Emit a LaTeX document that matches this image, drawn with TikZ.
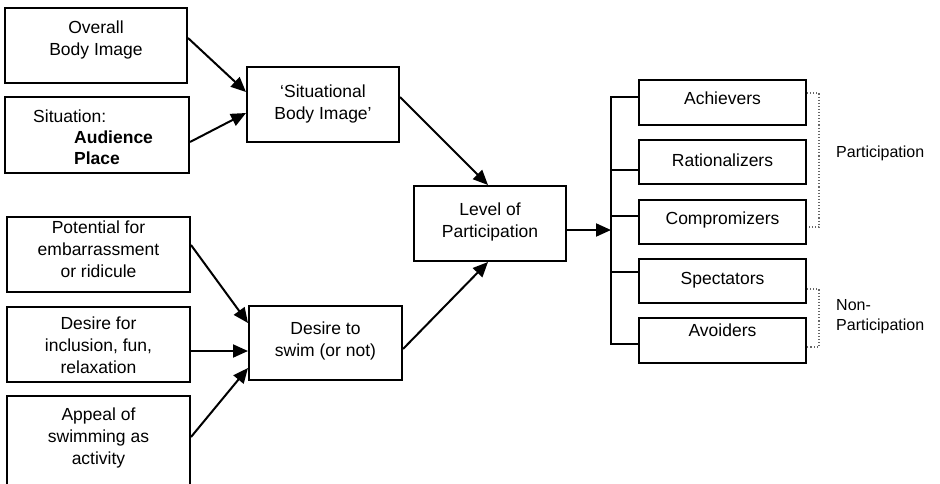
\documentclass[tikz,border=0pt]{standalone}
\usepackage{fontspec}
\setmainfont{Liberation Sans}
\usetikzlibrary{arrows.meta}
\begin{document}
\begin{tikzpicture}[x=1pt,y=-1pt,
  box/.style={draw, line width=2pt, inner sep=0pt},
  txt/.style={inner sep=0pt, align=center, font=\fontsize{17.5}{22}\selectfont},
  lbl/.style={inner sep=0pt, align=left, anchor=west, font=\fontsize{16}{20}\selectfont},
  arr/.style={line width=2pt, -{Triangle[length=15pt,width=13pt]}},
  ln/.style={line width=2pt, line join=miter},
  brk/.style={black!60, dotted, line width=1.1pt}
]
\useasboundingbox (0,0) rectangle (940,483);
\clip (0,0) rectangle (940,483);
% left column boxes
\node[box, minimum width=182pt, minimum height=75pt] (body) at (96,45.5) {};
\node[txt] (bodyT) at (96,40) {Overall\\Body Image};
\node[box, minimum width=184pt, minimum height=76pt] (sit) at (97,135) {};
\node[txt, align=left, anchor=west, font=\fontsize{17.5}{21}\selectfont] (sitT) at (33,137)
  {Situation:\\\hspace*{41pt}\textbf{Audience}\\\hspace*{41pt}\textbf{Place}};
\node[box, minimum width=183pt, minimum height=75pt] (pot) at (98.5,254.5) {};
\node[txt] (potT) at (98.5,249) {Potential for\\embarrassment\\or ridicule};
\node[box, minimum width=183pt, minimum height=75pt] (dfi) at (98.5,344.5) {};
\node[txt] (dfiT) at (98.5,345) {Desire for\\inclusion, fun,\\relaxation};
\node[box, minimum width=183pt, minimum height=94pt] (app) at (98.5,443) {};
\node[txt] (appT) at (98.5,438) {Appeal of\\swimming as\\activity};
% middle boxes
\node[box, minimum width=152pt, minimum height=75pt] (sbi) at (323,104.5) {};
\node[txt] (sbiT) at (323,104.3) {`Situational\\Body Image'};
\node[box, minimum width=153pt, minimum height=74pt] (dts) at (325.5,343) {};
\node[txt] (dtsT) at (325.5,341) {Desire to\\swim (or not)};
\node[box, minimum width=152pt, minimum height=75pt] (level) at (490,223.5) {};
\node[txt] (levelT) at (490,222) {Level of\\Participation};
% right boxes
\node[box, minimum width=167pt, minimum height=45pt] (ach) at (722.5,102.5) {};
\node[txt] (achT) at (722.5,98.5) {Achievers};
\node[box, minimum width=167pt, minimum height=44pt] (rat) at (722.5,162) {};
\node[txt] (ratT) at (722.5,160) {Rationalizers};
\node[box, minimum width=167pt, minimum height=44pt] (com) at (722.5,222) {};
\node[txt] (comT) at (722.5,220) {Compromizers};
\node[box, minimum width=167pt, minimum height=44pt] (spe) at (722.5,281) {};
\node[txt] (speT) at (722.5,280.5) {Spectators};
\node[box, minimum width=167pt, minimum height=45pt] (avo) at (722.5,340.5) {};
\node[txt] (avoT) at (722.5,330) {Avoiders};
% labels
\node[lbl] (part) at (836,153) {Participation};
\node[lbl] (nonpart) at (836,317) {Non-\\Participation};
% arrows
\draw[arr] ([yshift=7.5pt]body.east) -- ([yshift=12.5pt]sbi.west);
\draw[arr] ([yshift=-7pt]sit.east) -- ([yshift=-8.5pt]sbi.west);
\draw[arr] ([yshift=7.5pt]sbi.east) -- ([xshift=-2pt]level.north);
\draw[arr] ([yshift=9.5pt]pot.east) -- ([yshift=20pt]dts.west);
\draw[arr] ([yshift=-6.5pt]dfi.east) -- ([yshift=-8pt]dts.west);
\draw[arr] ([yshift=6pt]app.east) -- ([yshift=-25pt]dts.west);
\draw[arr] ([yshift=-6pt]dts.east) -- ([xshift=-2pt]level.south);
% tree
\coordinate (trunk) at (611,230);
\coordinate (b1) at (611,97);
\coordinate (b2) at (611,170);
\coordinate (b3) at (611,216);
\coordinate (b4) at (611,272);
\coordinate (b5) at (611,344);
\draw[arr] (level.east |- trunk) -- (trunk);
\draw[ln] (ach.west |- b1) -- (b1) -- (b5) -- (avo.west |- b5);
\draw[ln] (b2) -- (rat.west |- b2);
\draw[ln] (b3) -- (com.west |- b3);
\draw[ln] (b4) -- (spe.west |- b4);
% dotted brackets
\coordinate (p1) at (819,93);
\coordinate (p2) at (819,227);
\coordinate (p3) at (819,289);
\coordinate (p4) at (819,347);
\draw[brk] (ach.east |- p1) -- (p1) -- (p2) -- (com.east |- p2);
\draw[brk] (spe.east |- p3) -- (p3) -- (p4) -- (avo.east |- p4);
\end{tikzpicture}
\end{document}
